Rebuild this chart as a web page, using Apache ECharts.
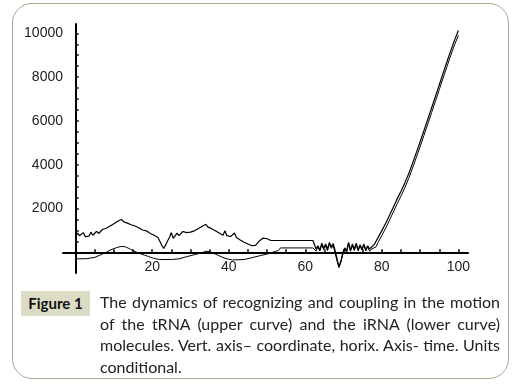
<!DOCTYPE html>
<html>
<head>
<meta charset="utf-8">
<script src="https://cdn.jsdelivr.net/npm/echarts@6/dist/echarts.min.js"></script>
<style>
  html, body { margin: 0; padding: 0; background: #fff; }
  #wrap { position: relative; width: 516px; height: 389px; overflow: hidden; }
  #frame { position: absolute; left: 12px; top: 3px; width: 497px; height: 376px;
           border: 1px solid #aca78e; border-radius: 20px; box-sizing: border-box; }
  #chart { position: absolute; left: 0; top: 0; width: 516px; height: 389px; }
  #figlab { position: absolute; left: 21px; top: 291px; width: 69px; height: 25px;
            background: #dcdcc6; font-family: Lato, "Open Sans", sans-serif; font-weight: bold;
            font-size: 15px; line-height: 25px; text-align: center; color: #111; }
  #caption { position: absolute; left: 100px; top: 291px; width: 400px;
             font-family: Lato, "Open Sans", sans-serif; font-size: 16px; line-height: 21.5px;
             color: #222; text-align: justify; }
</style>
</head>
<body>
<div id="wrap">
  <div id="frame"></div>
  <div id="chart"></div>
  <div id="figlab">Figure 1</div>
  <div id="caption">The dynamics of recognizing and coupling in the motion of the tRNA (upper curve) and the iRNA (lower curve) molecules. Vert. axis– coordinate, horix. Axis- time. Units conditional.</div>
</div>
<script>
// ---- data ----
const upperT = [0,0.5,1,1.5,2,2.5,3,3.5,4,4.5,5,5.5,6,6.5,7,7.5,8,8.5,9,9.5,10,10.5,11,11.5,12,12.5,13,13.5,14,14.5,15,15.5,16,16.5,17,17.5,18,18.5,19,19.5,20,20.5,21,21.5,22,22.5,23,23.5,24,24.5,25,25.5,26,26.5,27,27.5,28,28.5,29,29.5,30,30.5,31,31.5,32,32.5,33,33.5,34,34.5,35,35.5,36,36.5,37,37.5,38,38.5,39,39.5,40,40.5,41,41.5,42,42.5,43,43.5,44,44.5,45,45.5,46,46.5,47,47.5,48,48.5,49,49.5,50,50.5,51,62,
  62.3,62.8,63.3,63.8,64.3,64.8,65.3,65.8,66.3,66.8,67.3,67.8,68.3,68.8,69.3,69.8,70.3,70.8,71.3,71.8,72.3,72.8,73.3,73.8,74.3,74.8,75.3,75.8,76.3,76.8,
  77,78,79,80,81,82,83,84,85,86,87,88,89,90,91,92,93,94,95,96,97,98,99,100];
const upperV = [720,880,760,700,900,720,780,740,920,780,820,960,860,900,1040,980,1100,1060,1200,1150,1300,1250,1420,1350,1500,1400,1450,1330,1400,1260,1320,1200,1250,1120,1150,1020,1080,980,950,860,900,780,820,680,500,320,180,330,520,680,900,640,720,880,760,820,950,860,900,960,920,1000,980,1060,1080,1120,1180,1150,1280,1160,1200,1080,1120,980,960,880,920,780,980,760,800,720,760,880,680,640,560,500,460,420,380,340,300,240,320,420,520,600,650,660,620,580,540,540,
  520,150,300,100,420,200,380,150,450,250,400,60,-300,-650,-400,0,200,60,450,100,380,150,420,120,350,150,380,120,300,150,
  120,360,670,990,1330,1690,2060,2440,2790,3170,3590,4060,4550,5050,5560,6080,6600,7120,7650,8180,8700,9210,9700,10130];

const lowerT = [0,3,5,6.5,8,9,10,10.5,11,12,13,14,15,16,17,18,19,20,21,22,25,27,29,31,33,34,35,36,37,38,39,40,41,44,46,48,50,52,53,53.5,62,
  62.3,62.8,63.3,63.8,64.3,64.8,65.3,65.8,66.3,66.8,67.3,67.8,68.3,68.8,69.3,69.8,70.3,70.8,71.3,71.8,72.3,72.8,73.3,73.8,74.3,74.8,75.3,75.8,76.3,76.8,77.3,
  77.8,78.5,79,80,81,82,83,84,85,86,87,88,89,90,91,92,93,94,95,96,97,98,99,100];
const lowerV = [-300,-290,-230,-120,0,100,170,220,230,270,250,170,80,0,-70,-130,-190,-250,-300,-330,-330,-300,-200,-110,-20,50,30,-40,-120,-200,-270,-320,-350,-330,-250,-160,-80,30,80,200,200,
  180,50,250,60,350,120,300,80,380,180,300,-50,-400,-700,-450,-100,150,0,380,50,300,80,350,60,280,100,320,60,250,50,150,
  100,250,450,770,1110,1470,1840,2220,2570,2950,3370,3840,4330,4830,5340,5860,6380,6900,7430,7960,8480,8990,9480,9910];

const xTicks = [5,10,15,20,25,30,35,40,45,50,55,60,65,70,75,80,85,90,95,100];
const xLabels = [20,40,60,80,100];
const yTicks = [500,1000,1500,2000,2500,3000,3500,4000,4500,5000,5500,6000,6500,7000,7500,8000,8500,9000,9500,10000];
const yLabels = [2000,4000,6000,8000,10000];

const pairs = (ts, vs) => ts.map((t, i) => [t, vs[i]]);

const chart = echarts.init(document.getElementById('chart'), null, { renderer: 'canvas' });
const labelFont = { fontFamily: 'Liberation Sans', fontSize: 14, color: '#222', formatter: v => String(v) };
chart.setOption({
  animation: false,
  grid: { left: 63, right: 48, top: 24, bottom: 116, containLabel: false },
  xAxis: {
    type: 'value', min: -3.3, max: 102.5,
    axisLine: { onZero: true, lineStyle: { color: '#000', width: 2 } },
    axisTick: { show: true, inside: true, length: 3, customValues: xTicks, lineStyle: { color: '#000', width: 1.5 } },
    axisLabel: Object.assign({ customValues: xLabels, margin: -13 }, labelFont),
    splitLine: { show: false }
  },
  yAxis: {
    type: 'value', min: -945, max: 10425,
    axisLine: { onZero: true, lineStyle: { color: '#000', width: 2 } },
    axisTick: { show: true, inside: true, length: 3, customValues: yTicks, lineStyle: { color: '#000', width: 1.5 } },
    axisLabel: Object.assign({ customValues: yLabels, margin: 0 }, labelFont),
    splitLine: { show: false }
  },
  series: [
    { name: 'tRNA', type: 'line', data: pairs(upperT, upperV), showSymbol: false,
      lineStyle: { color: '#000', width: 1.2 } },
    { name: 'iRNA', type: 'line', data: pairs(lowerT, lowerV), showSymbol: false,
      lineStyle: { color: '#000', width: 1 } }
  ]
});
</script>
</body>
</html>
